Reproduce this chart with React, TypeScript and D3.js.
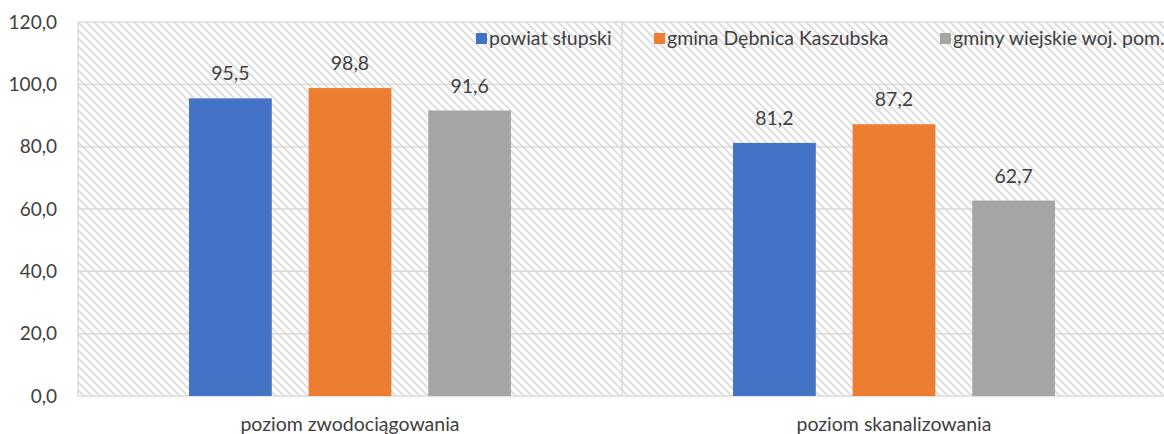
import React from "react";
import * as d3 from "d3";

const categories = ["poziom zwodociągowania", "poziom skanalizowania"];
const seriesNames = ["powiat słupski", "gmina Dębnica Kaszubska", "gminy wiejskie woj. pom."];
const powiat = [95.5, 81.2];
const gmina = [98.8, 87.2];
const wiejskie = [91.6, 62.7];
const yTicks = [0, 20, 40, 60, 80, 100, 120];
const colors = ["#4472C4", "#ED7D31", "#A5A5A5"];

const W = 1164;
const H = 434;
const left = 78;
const right = 1166;
const top = 22;
const bottom = 396;
const FONT = "Lato, 'Open Sans', sans-serif";
const TEXT = "#404040";

export default function App() {
  const series = [powiat, gmina, wiejskie];
  const x0 = d3.scaleBand<string>().domain(categories).range([left, right]).padding(0);
  const x1 = d3
    .scaleBand<number>()
    .domain([0, 1, 2])
    .range([111, x0.bandwidth() - 111])
    .paddingInner(0.308);
  const y = d3.scaleLinear().domain([0, 120]).range([bottom, top]);
  const fmt = (v: number) => v.toFixed(1).replace(".", ",");
  const legendX = [476, 654, 940];

  return (
    <svg width={W} height={H} style={{ display: "block", position: "absolute", left: 0, top: 0 }}>
      <defs>
        <pattern id="hatch" width="8" height="8" patternUnits="userSpaceOnUse">
          <rect width="8" height="8" fill="#ffffff" />
          <path d="M-2,-2 L10,10 M-2,6 L2,10 M6,-2 L10,2" stroke="#dedede" strokeWidth="2" />
        </pattern>
      </defs>
      <rect x={0} y={0} width={W} height={H} fill="#ffffff" />
      <rect x={left} y={top} width={right - left} height={bottom - top} fill="url(#hatch)" />
      {yTicks.map((t) => (
        <g key={t}>
          <line x1={left} x2={right} y1={y(t)} y2={y(t)} stroke="#d9d9d9" strokeWidth={1.5} />
          <text
            x={57}
            y={y(t)}
            dy="0.35em"
            textAnchor="end"
            fontFamily={FONT}
            fontSize={19}
            fill={TEXT}
          >
            {fmt(t)}
          </text>
        </g>
      ))}
      {[left, x0(categories[1])!, right].map((xv, i) => (
        <line key={i} x1={xv} x2={xv} y1={top} y2={bottom} stroke="#d9d9d9" strokeWidth={1.5} />
      ))}
      {categories.map((c, ci) => (
        <g key={c} transform={`translate(${x0(c)},0)`}>
          {series.map((s, si) => {
            const bx = x1(si)!;
            const bw = x1.bandwidth();
            return (
              <g key={si}>
                <rect x={bx} y={y(s[ci])} width={bw} height={bottom - y(s[ci])} fill={colors[si]} />
                <text
                  x={bx + bw / 2}
                  y={y(s[ci]) - 18}
                  textAnchor="middle"
                  fontFamily={FONT}
                  fontSize={19.5}
                  fill={TEXT}
                >
                  {fmt(s[ci])}
                </text>
              </g>
            );
          })}
          <text
            x={x0.bandwidth() / 2}
            y={431}
            textAnchor="middle"
            fontFamily={FONT}
            fontSize={19.5}
            fill={TEXT}
          >
            {c}
          </text>
        </g>
      ))}
      {seriesNames.map((n, i) => (
        <g key={n}>
          <rect x={legendX[i]} y={33} width={11} height={11} fill={colors[i]} />
          <text x={legendX[i] + 13} y={38.5} dy="0.35em" fontFamily={FONT} fontSize={19.5} fill={TEXT}>
            {n}
          </text>
        </g>
      ))}
    </svg>
  );
}
